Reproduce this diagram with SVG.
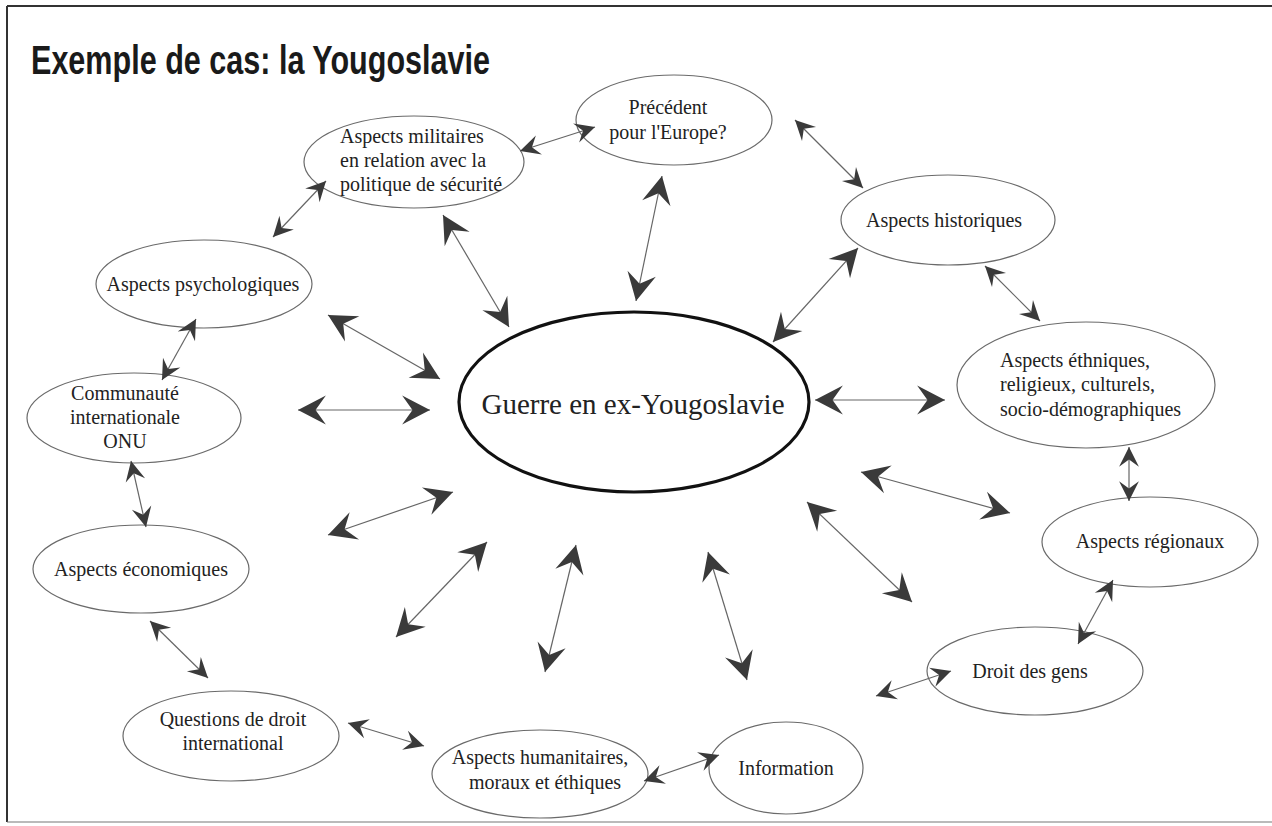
<svg xmlns="http://www.w3.org/2000/svg" width="1272" height="826" viewBox="0 0 1272 826">
<style>
.node{fill:#fff;stroke:#6a6a6a;stroke-width:1.2}
.core{fill:#fff;stroke:#111;stroke-width:3.2}
.t{font-family:"Liberation Serif","Times New Roman",serif;font-size:20px;fill:#222}
.c{text-anchor:middle}
.big{font-size:29px}
.ln{stroke:#666;stroke-width:1.2;fill:none}
.s{marker-start:url(#sm);marker-end:url(#sm)}
.b{marker-start:url(#bg);marker-end:url(#bg)}
.title{font-family:"Liberation Sans",Arial,sans-serif;font-weight:bold;font-size:41px;fill:#1a1a1a}
</style>
<defs>
<marker id="sm" markerUnits="userSpaceOnUse" markerWidth="24" markerHeight="24" viewBox="-21 -11 23 22" refX="0" refY="0" orient="auto-start-reverse">
<path d="M0,0 L-19,-9.5 L-12,0 L-19,9.5 Z" fill="#3a3a3a"/>
</marker>
<marker id="bg" markerUnits="userSpaceOnUse" markerWidth="32" markerHeight="32" viewBox="-29 -15 31 30" refX="0" refY="0" orient="auto-start-reverse">
<path d="M0,0 L-27,-14 L-17,0 L-27,14 Z" fill="#3a3a3a"/>
</marker>
</defs>
<rect width="1272" height="826" fill="#fff"/>
<g id="frame" stroke="#333" fill="none">
<line x1="7" y1="6" x2="1272" y2="6" stroke-width="2"/>
<line x1="7" y1="6" x2="7" y2="822" stroke-width="2"/>
<line x1="7" y1="822" x2="1272" y2="822" stroke-width="1.2" stroke="#777"/>
</g>
<text class="title" x="31" y="74" textLength="459" lengthAdjust="spacingAndGlyphs">Exemple de cas: la Yougoslavie</text>

<g id="n-center">
<ellipse class="core" cx="634" cy="402" rx="175" ry="90"/>
<text class="t c big" x="633" y="414">Guerre en ex-Yougoslavie</text>
</g>
<g id="n-militaires">
<ellipse class="node" cx="414" cy="162" rx="110" ry="46"/>
<text class="t" x="340" y="143">Aspects militaires</text>
<text class="t" x="340" y="167">en relation avec la</text>
<text class="t" x="340" y="191">politique de sécurité</text>
</g>
<g id="n-precedent">
<ellipse class="node" cx="674" cy="120" rx="98" ry="45"/>
<text class="t c" x="668" y="114">Précédent</text>
<text class="t c" x="668" y="139">pour l'Europe?</text>
</g>
<g id="n-historiques">
<ellipse class="node" cx="948" cy="220" rx="107" ry="45"/>
<text class="t c" x="944" y="227">Aspects historiques</text>
</g>
<g id="n-ethniques">
<ellipse class="node" cx="1086" cy="385" rx="129" ry="63"/>
<text class="t" x="1000" y="367">Aspects éthniques,</text>
<text class="t" x="1000" y="391">religieux, culturels,</text>
<text class="t" x="1000" y="416">socio-démographiques</text>
</g>
<g id="n-regionaux">
<ellipse class="node" cx="1150" cy="542" rx="108" ry="45"/>
<text class="t c" x="1150" y="548">Aspects régionaux</text>
</g>
<g id="n-droitgens">
<ellipse class="node" cx="1035" cy="671" rx="108" ry="44"/>
<text class="t c" x="1030" y="678">Droit des gens</text>
</g>
<g id="n-information">
<ellipse class="node" cx="786" cy="768" rx="77" ry="46"/>
<text class="t c" x="786" y="775">Information</text>
</g>
<g id="n-humanitaires">
<ellipse class="node" cx="540" cy="774" rx="108" ry="44"/>
<text class="t c" x="540" y="764">Aspects humanitaires,</text>
<text class="t c" x="545" y="789">moraux et éthiques</text>
</g>
<g id="n-questions">
<ellipse class="node" cx="231" cy="736" rx="108" ry="45"/>
<text class="t c" x="233" y="726">Questions de droit</text>
<text class="t c" x="233" y="750">international</text>
</g>
<g id="n-economiques">
<ellipse class="node" cx="141" cy="569" rx="108" ry="44"/>
<text class="t c" x="141" y="576">Aspects économiques</text>
</g>
<g id="n-communaute">
<ellipse class="node" cx="134" cy="418" rx="107" ry="45"/>
<text class="t c" x="125" y="400">Communauté</text>
<text class="t c" x="125" y="424">internationale</text>
<text class="t c" x="125" y="448">ONU</text>
</g>
<g id="n-psychologiques">
<ellipse class="node" cx="204" cy="284" rx="108" ry="44"/>
<text class="t c" x="203" y="291">Aspects psychologiques</text>
</g>

<g id="connectors">
<line class="ln s" x1="520" y1="151" x2="595" y2="127"/>
<line class="ln s" x1="795" y1="120" x2="863" y2="188"/>
<line class="ln s" x1="985" y1="266" x2="1040" y2="321"/>
<line class="ln s" x1="1129" y1="447" x2="1129" y2="501"/>
<line class="ln s" x1="1113" y1="580" x2="1078" y2="644"/>
<line class="ln s" x1="876" y1="696" x2="951" y2="671"/>
<line class="ln s" x1="644" y1="781" x2="719" y2="755"/>
<line class="ln s" x1="348" y1="723" x2="424" y2="746"/>
<line class="ln s" x1="150" y1="621" x2="208" y2="678"/>
<line class="ln s" x1="131" y1="461" x2="146" y2="527"/>
<line class="ln s" x1="162" y1="380" x2="196" y2="319"/>
<line class="ln s" x1="273" y1="237" x2="326" y2="181"/>

<line class="ln b" x1="443" y1="215" x2="509" y2="327"/>
<line class="ln b" x1="662" y1="176" x2="636" y2="301"/>
<line class="ln b" x1="858" y1="248" x2="773" y2="342"/>
<line class="ln b" x1="815" y1="400" x2="945" y2="400"/>
<line class="ln b" x1="861" y1="472" x2="1010" y2="513"/>
<line class="ln b" x1="807" y1="502" x2="912" y2="602"/>
<line class="ln b" x1="708" y1="552" x2="747" y2="680"/>
<line class="ln b" x1="576" y1="545" x2="545" y2="672"/>
<line class="ln b" x1="487" y1="542" x2="396" y2="637"/>
<line class="ln b" x1="453" y1="492" x2="328" y2="535"/>
<line class="ln b" x1="430" y1="410" x2="298" y2="410"/>
<line class="ln b" x1="328" y1="315" x2="440" y2="379"/>
</g>
</svg>
